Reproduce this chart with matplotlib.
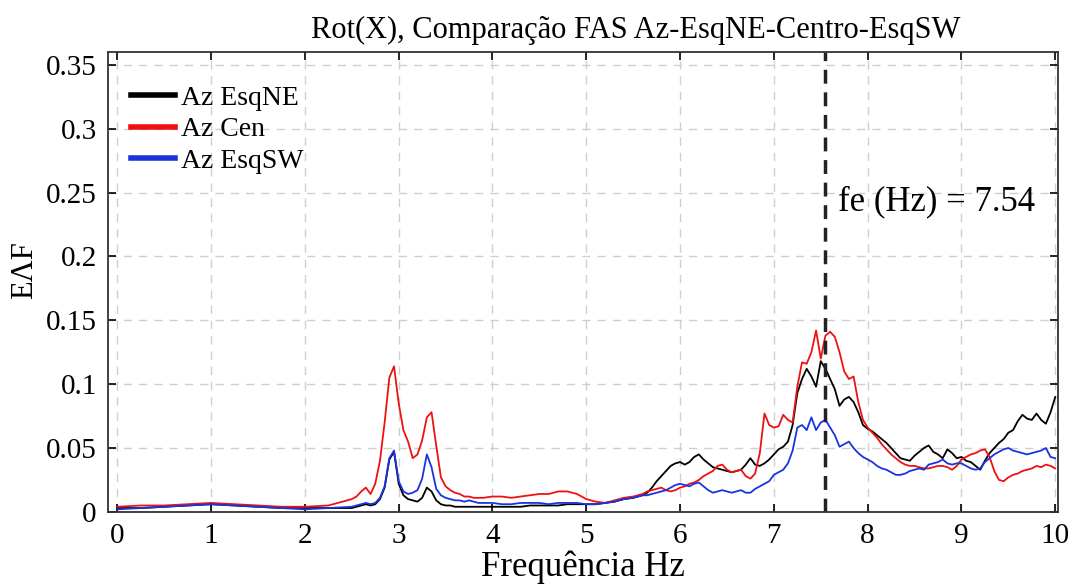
import numpy as np
import matplotlib
matplotlib.use("Agg")
import matplotlib.pyplot as plt

plt.rcParams['font.family'] = ['Liberation Serif', 'DejaVu Serif']

# frequency grid (Hz): coarse where the spectra are flat, fine where they move
freq = np.concatenate([
    np.linspace(0.0, 2.25, 10),
    np.linspace(2.5, 3.85, 28),
    np.linspace(3.9, 5.4, 16),
    np.linspace(5.5, 10.0, 91),
])

# Az EsqNE (black)
esq_ne = [
    0.003, 0.003, 0.004, 0.005, 0.006, 0.005, 0.004, 0.003, 0.003, 0.003,
    # 2.50 - 3.85
    0.003, 0.004, 0.005, 0.006, 0.005, 0.006, 0.010, 0.019, 0.041, 0.047,
    0.022, 0.013, 0.010, 0.009, 0.008, 0.011, 0.019, 0.016, 0.009, 0.006,
    0.005, 0.005, 0.004, 0.004, 0.004, 0.004, 0.004, 0.004,
    # 3.9 - 5.4
    0.004, 0.004, 0.004, 0.004, 0.004, 0.005, 0.005, 0.005, 0.005, 0.006,
    0.006, 0.006, 0.006, 0.007, 0.008, 0.010,
    # 5.50 - 10.00
    0.011, 0.012, 0.013, 0.015, 0.019, 0.024, 0.028, 0.032, 0.036, 0.038,
    0.039, 0.037, 0.039, 0.043, 0.045, 0.041, 0.038, 0.035, 0.034, 0.033,
    0.032, 0.031, 0.032, 0.033, 0.037, 0.042, 0.037, 0.036, 0.038, 0.041,
    0.045, 0.049, 0.051, 0.055, 0.068, 0.093, 0.104, 0.112, 0.106, 0.098,
    0.118, 0.112, 0.104, 0.096, 0.083, 0.088, 0.090, 0.086, 0.078, 0.068,
    0.065, 0.063, 0.060, 0.057, 0.054, 0.050, 0.046, 0.042, 0.041, 0.040,
    0.044, 0.047, 0.050, 0.052, 0.047, 0.045, 0.042, 0.049, 0.046, 0.042,
    0.043, 0.040, 0.039, 0.036, 0.033, 0.040, 0.046, 0.050, 0.054, 0.057,
    0.062, 0.064, 0.071, 0.076, 0.073, 0.072, 0.077, 0.072, 0.069, 0.078,
    0.090,
]

# Az Cen (red)
cen = [
    0.004, 0.005, 0.005, 0.006, 0.007, 0.006, 0.005, 0.004, 0.004, 0.005,
    # 2.50 - 3.85
    0.010, 0.012, 0.016, 0.019, 0.014, 0.022, 0.040, 0.070, 0.105, 0.114,
    0.085, 0.064, 0.055, 0.042, 0.045, 0.056, 0.074, 0.078, 0.052, 0.027,
    0.020, 0.017, 0.015, 0.014, 0.012, 0.012, 0.011, 0.011,
    # 3.9 - 5.4
    0.011, 0.012, 0.012, 0.011, 0.012, 0.013, 0.014, 0.014, 0.016, 0.016,
    0.014, 0.010, 0.008, 0.007, 0.009, 0.011,
    # 5.50 - 10.00
    0.012, 0.013, 0.014, 0.016, 0.017, 0.018, 0.019, 0.017, 0.016, 0.017,
    0.019, 0.020, 0.022, 0.023, 0.025, 0.028, 0.030, 0.032, 0.036, 0.037,
    0.033, 0.031, 0.032, 0.033, 0.028, 0.026, 0.030, 0.046, 0.077, 0.068,
    0.066, 0.067, 0.076, 0.072, 0.070, 0.098, 0.117, 0.116, 0.125, 0.142,
    0.120, 0.138, 0.141, 0.137, 0.125, 0.110, 0.104, 0.106, 0.086, 0.072,
    0.066, 0.062, 0.058, 0.053, 0.049, 0.045, 0.042, 0.039, 0.037, 0.036,
    0.036, 0.035, 0.034, 0.034, 0.035, 0.036, 0.036, 0.035, 0.033, 0.036,
    0.041, 0.043, 0.045, 0.046, 0.048, 0.049, 0.043, 0.032, 0.025, 0.024,
    0.027, 0.029, 0.030, 0.032, 0.033, 0.034, 0.036, 0.035, 0.037, 0.036,
    0.034,
]

# Az EsqSW (blue)
esq_sw = [
    0.002, 0.003, 0.004, 0.005, 0.006, 0.005, 0.004, 0.003, 0.002, 0.003,
    # 2.50 - 3.85
    0.004, 0.005, 0.006, 0.007, 0.006, 0.007, 0.011, 0.020, 0.042, 0.048,
    0.024, 0.016, 0.014, 0.015, 0.017, 0.026, 0.045, 0.035, 0.018, 0.013,
    0.011, 0.010, 0.009, 0.009, 0.008, 0.009, 0.008, 0.007,
    # 3.9 - 5.4
    0.007, 0.007, 0.006, 0.006, 0.007, 0.007, 0.007, 0.006, 0.007, 0.007,
    0.007, 0.006, 0.006, 0.007, 0.008, 0.010,
    # 5.50 - 10.00
    0.011, 0.012, 0.013, 0.013, 0.014, 0.015, 0.016, 0.017, 0.019, 0.021,
    0.022, 0.021, 0.020, 0.022, 0.023, 0.020, 0.017, 0.015, 0.016, 0.017,
    0.016, 0.015, 0.016, 0.017, 0.015, 0.015, 0.018, 0.020, 0.022, 0.024,
    0.029, 0.031, 0.033, 0.038, 0.048, 0.066, 0.068, 0.064, 0.074, 0.064,
    0.070, 0.072, 0.066, 0.060, 0.051, 0.053, 0.055, 0.050, 0.046, 0.043,
    0.041, 0.039, 0.036, 0.034, 0.033, 0.031, 0.029, 0.029, 0.030, 0.032,
    0.033, 0.034, 0.033, 0.037, 0.038, 0.039, 0.041, 0.038, 0.037, 0.038,
    0.038, 0.036, 0.034, 0.033, 0.034, 0.039, 0.042, 0.045, 0.047, 0.049,
    0.050, 0.048, 0.047, 0.046, 0.045, 0.046, 0.047, 0.048, 0.050, 0.043,
    0.042,
]

fe = 7.54
xticks = list(range(0, 11))
yticks = [0, 0.05, 0.1, 0.15, 0.2, 0.25, 0.3, 0.35]
ytick_labels = ['0', '0.05', '0.1', '0.15', '0.2', '0.25', '0.3', '0.35']

fig = plt.figure(figsize=(10.72, 5.85), dpi=100)
ax = fig.add_axes([0.1007, 0.125, 0.8863, 0.786])

ax.plot(freq, esq_ne, color='black', lw=1.3, label='Az EsqNE')
ax.plot(freq, cen, color='#ee1111', lw=1.3, label='Az Cen')
ax.plot(freq, esq_sw, color='#1a33e0', lw=1.3, label='Az EsqSW')

ax.axvline(fe, color='#222222', lw=2.5, ls=(0, (4, 2.5)))
ax.text(fe + 0.14, 0.243, 'fe (Hz) = %.2f' % fe, fontsize=25, va='center', ha='left')

ax.set_xlim(-0.1, 10.03)
ax.set_ylim(0, 0.36)
ax.set_xticks(xticks)
ax.set_yticks(yticks)
ax.set_yticklabels(ytick_labels)
ax.tick_params(direction='in', top=True, right=True, labelsize=21, length=6,
               width=1.2, pad=8)
ax.grid(True, color='#cfcfcf', ls=(0, (6, 5)), lw=1.0)
for s in ax.spines.values():
    s.set_linewidth(1.3)
    s.set_color('#333333')

fig.text(0.593, 0.948, 'Rot(X), Comparação FAS Az-EsqNE-Centro-EsqSW',
         fontsize=22, ha='center', va='center')
ax.set_xlabel('Frequência Hz', fontsize=25, labelpad=1)
ax.set_ylabel('EΛF', fontsize=22)
ax.yaxis.set_label_coords(-0.073, 0.526)

leg = ax.legend(loc='upper left', bbox_to_anchor=(0.015, 0.946), frameon=False,
                fontsize=20, handlelength=1.6, handletextpad=0.2,
                labelspacing=0.22, borderaxespad=0.0, borderpad=0.3)
for line in leg.get_lines():
    line.set_linewidth(4)

fig.savefig('out.png', dpi=100)
